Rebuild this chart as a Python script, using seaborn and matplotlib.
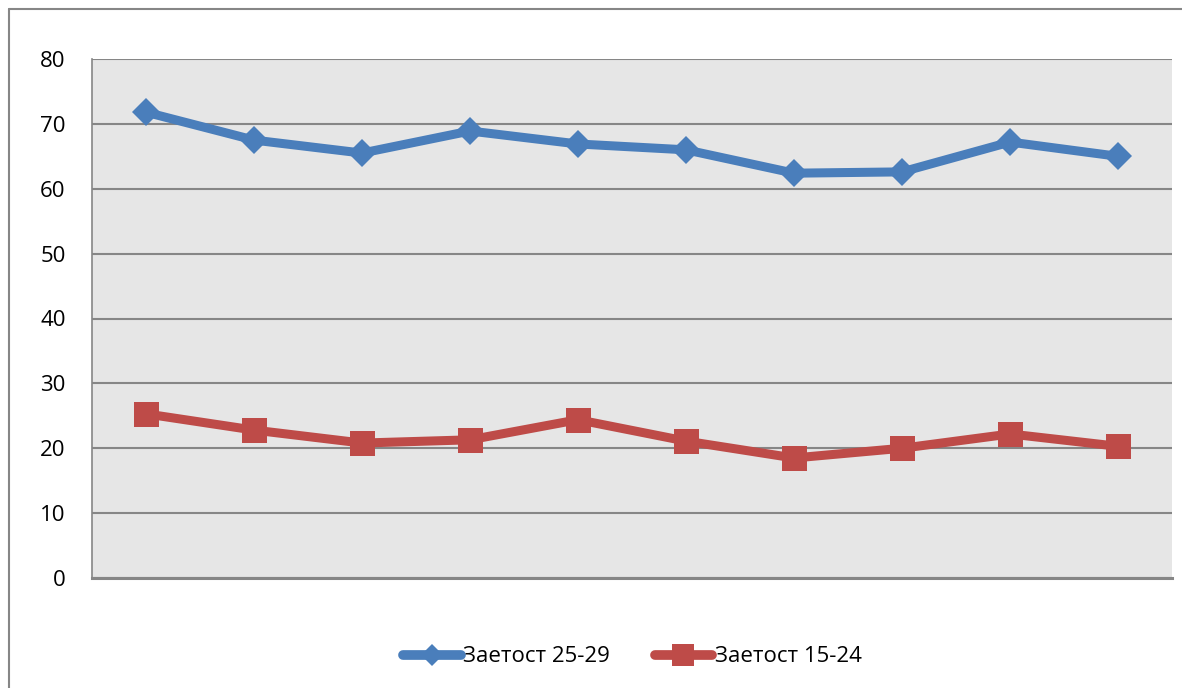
import matplotlib

matplotlib.use("Agg")

import matplotlib.pyplot as plt
import pandas as pd
import seaborn as sns
from matplotlib.lines import Line2D

points = list(range(1, 11))
series_names = ["Заетост 25-29", "Заетост 15-24"]
employment_25_29 = [71.8, 67.5, 65.5, 68.9, 66.9, 66.0, 62.4, 62.6, 67.2, 65.0]
employment_15_24 = [25.3, 22.8, 20.8, 21.3, 24.4, 21.1, 18.5, 20.0, 22.2, 20.3]
y_ticks = [0, 10, 20, 30, 40, 50, 60, 70, 80]

colors = {"Заетост 25-29": "#4a7ebb", "Заетост 15-24": "#be4b48"}
markers = {"Заетост 25-29": "D", "Заетост 15-24": "s"}
grid_gray = "#868686"

df = pd.DataFrame(
    {
        "point": points * 2,
        "value": employment_25_29 + employment_15_24,
        "series": [series_names[0]] * len(points) + [series_names[1]] * len(points),
    }
)

sns.set_style("white")
plt.rcParams["font.family"] = ["Open Sans", "DejaVu Sans"]
plt.rcParams["text.color"] = "black"
plt.rcParams["ytick.labelcolor"] = "black"

fig = plt.figure(figsize=(11.82, 6.88), dpi=100)
ax = fig.add_axes([92 / 1182, 1 - 578 / 688, 1080 / 1182, 519 / 688])
ax.set_facecolor("#e6e6e6")

# draw each series so the two markers can get their own sizes
for name, ms in zip(series_names, [14, 18]):
    sns.lineplot(
        data=df[df["series"] == name],
        x="point",
        y="value",
        color=colors[name],
        marker=markers[name],
        linewidth=6.5,
        markersize=ms,
        markeredgewidth=0,
        legend=False,
        ax=ax,
    )

ax.set_xlim(0.5, 10.5)
ax.set_ylim(0, 80)
ax.set_yticks(y_ticks)
ax.set_xticks([])
ax.set_xlabel("")
ax.set_ylabel("")
ax.grid(axis="y", color=grid_gray, linewidth=1.5)
ax.set_axisbelow(True)
ax.tick_params(axis="y", length=7, width=1.5, color=grid_gray, labelsize=16,
               labelcolor="black", pad=12)
for side in ["top", "right"]:
    ax.spines[side].set_visible(False)
ax.spines["left"].set_color(grid_gray)
ax.spines["left"].set_linewidth(1.2)
ax.spines["bottom"].set_color(grid_gray)
ax.spines["bottom"].set_linewidth(2.2)

# outer chart frame (cropped at right and bottom)
fig.add_artist(Line2D([9 / 1182, 9 / 1182], [0, 1 - 9 / 688], color=grid_gray, linewidth=1.5))
fig.add_artist(Line2D([9 / 1182, 1], [1 - 9 / 688, 1 - 9 / 688], color=grid_gray, linewidth=1.5))

handles = [
    Line2D([], [], color=colors[name], marker=markers[name], linewidth=7,
           markersize=11 if markers[name] == "D" else 16, markeredgewidth=0,
           solid_capstyle="round")
    for name in series_names
]
fig.legend(
    handles,
    series_names,
    loc="center",
    bbox_to_anchor=(0.535, 1 - 657 / 688),
    ncol=2,
    frameon=False,
    fontsize=16,
    labelcolor="black",
    handlelength=2.6,
    handletextpad=0.1,
    columnspacing=2.0,
)

fig.savefig("out.png", dpi=100)
plt.close(fig)
